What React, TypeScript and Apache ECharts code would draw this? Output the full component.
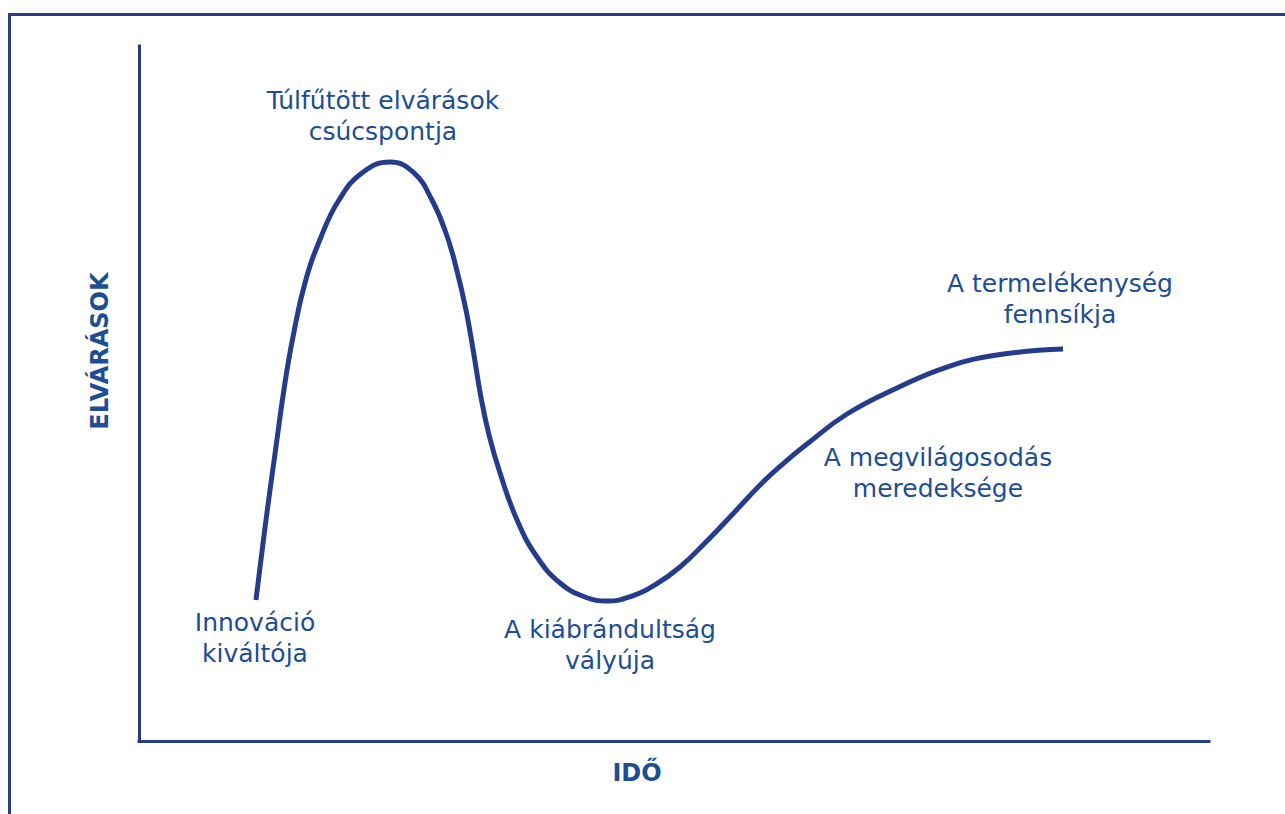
import React, { useEffect, useRef } from "react";
import * as echarts from "echarts";

// Hype cycle curve: time (0-100) vs expectations (0-100)
const timeValues = [
  10.93, 11.87, 12.76, 13.64, 14.39, 15.51, 17.01, 18.69, 20.84, 23.46, 25.7,
  27.38, 28.69, 29.63, 30.56, 31.26, 31.92, 32.71, 33.74, 35.33, 37.2, 39.35,
  41.68, 43.83, 46.07, 48.22, 50.56, 53.08, 55.23, 58.32, 60.37, 62.43, 66.17,
  70.84, 75.51, 80.19, 86.36,
];
const expectationValues = [
  20.29, 31.8, 41.87, 51.51, 58.13, 65.9, 72.52, 77.84, 81.73, 83.31, 81.73,
  77.84, 73.09, 68.2, 62.01, 55.97, 49.78, 44.03, 38.56, 31.8, 26.47, 22.73,
  20.72, 20.14, 20.86, 22.45, 25.04, 28.78, 32.23, 37.27, 40.14, 42.73, 47.05,
  50.79, 53.81, 55.54, 56.4,
];

// Phase labels
const phaseNames = [
  "Innováció\nkiváltója",
  "Túlfűtött elvárások\ncsúcspontja",
  "A kiábrándultság\nvályúja",
  "A megvilágosodás\nmeredeksége",
  "A termelékenység\nfennsíkja",
];
const phaseTime = [10.84, 22.8, 44.02, 74.67, 86.07];
const phaseExpectation = [14.82, 89.93, 13.81, 38.56, 63.6];

const xAxisTitle = "IDŐ";
const yAxisTitle = "ELVÁRÁSOK";

const NAVY = "#253b8b";
const TEXT_BLUE = "#1d4d94";
const FONT = "'DejaVu Sans', 'Noto Sans', sans-serif";

export default function App() {
  const ref = useRef<HTMLDivElement>(null);

  useEffect(() => {
    if (!ref.current) return;
    const chart = echarts.init(ref.current, null, { renderer: "svg" });
    const curve = timeValues.map((t, i) => [t, expectationValues[i]]);
    const labels = phaseNames.map((n, i) => ({
      value: [phaseTime[i], phaseExpectation[i]],
      name: n,
    }));
    chart.setOption({
      animation: false,
      backgroundColor: "#ffffff",
      grid: { left: 139, right: 76, top: 46, bottom: 73 },
      xAxis: {
        type: "value",
        min: 0,
        max: 100,
        axisLine: { show: true, lineStyle: { color: NAVY, width: 3, cap: "square" } },
        axisTick: { show: false },
        axisLabel: { show: false },
        splitLine: { show: false },
      },
      yAxis: {
        type: "value",
        min: 0,
        max: 100,
        axisLine: { show: true, lineStyle: { color: NAVY, width: 3, cap: "square" } },
        axisTick: { show: false },
        axisLabel: { show: false },
        splitLine: { show: false },
      },
      series: [
        {
          type: "line",
          data: curve,
          smooth: 0.45,
          symbol: "none",
          lineStyle: { color: NAVY, width: 5, cap: "butt" },
          z: 3,
        },
        {
          type: "scatter",
          data: labels,
          symbolSize: 1,
          itemStyle: { color: "rgba(0,0,0,0)", opacity: 1 },
          label: {
            show: true,
            position: "inside",
            formatter: (p: any) => p.name,
            color: TEXT_BLUE,
            opacity: 1,
            textBorderWidth: 0,
            fontFamily: FONT,
            fontSize: 25,
            lineHeight: 31,
            align: "center",
            verticalAlign: "middle",
          },
          z: 4,
        },
      ],
      graphic: [
        {
          type: "polyline",
          shape: { points: [[9.5, 814], [9.5, 14.5], [1285, 14.5]] },
          style: { stroke: "#2b3c8c", lineWidth: 3, fill: null },
        },
        {
          type: "text",
          x: 100,
          y: 351,
          rotation: Math.PI / 2,
          style: {
            text: yAxisTitle,
            fill: TEXT_BLUE,
            font: `bold 24px ${FONT}`,
            textAlign: "center",
            textVerticalAlign: "middle",
          },
        },
        {
          type: "text",
          x: 637,
          y: 773,
          style: {
            text: xAxisTitle,
            fill: TEXT_BLUE,
            font: `bold 24px ${FONT}`,
            textAlign: "center",
            textVerticalAlign: "middle",
          },
        },
      ],
    });
    return () => chart.dispose();
  }, []);

  return (
    <div
      ref={ref}
      style={{ position: "absolute", left: 0, top: 0, width: 1285, height: 814 }}
    />
  );
}
